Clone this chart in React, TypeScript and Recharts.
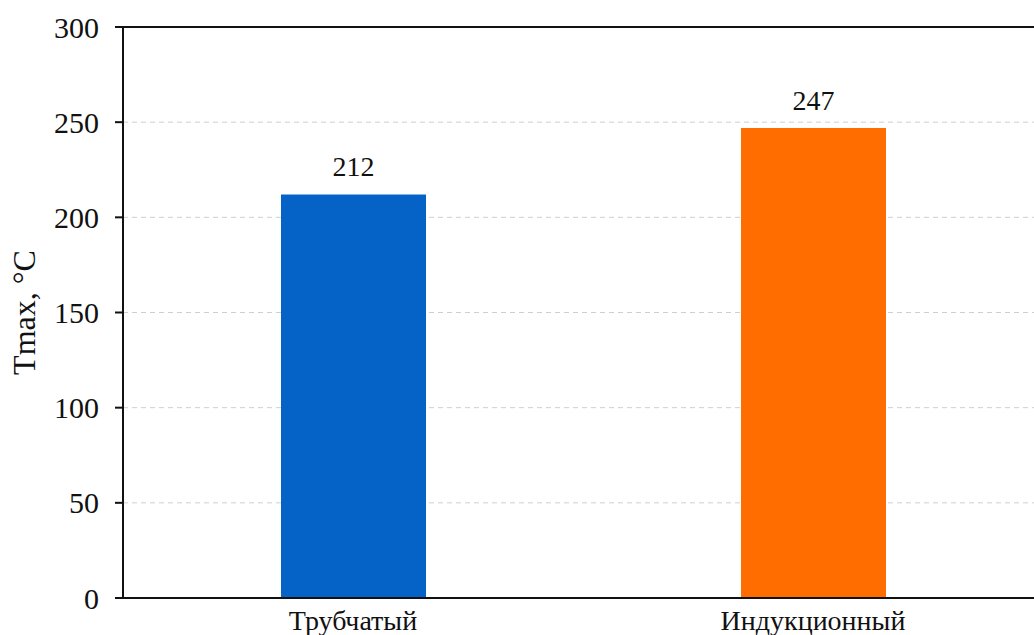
import { Bar, BarChart, CartesianGrid, LabelList, ReferenceLine, XAxis, YAxis, Cell } from "recharts"

const categories = ["Трубчатый", "Индукционный"]
const tmaxValues = [212, 247]
const barColors = ["#0563c8", "#ff6d00"]
const yTicks = [0, 50, 100, 150, 200, 250, 300]

const chartData = categories.map((name, i) => ({ name, tmax: tmaxValues[i] }))

const font = "'Liberation Serif', 'Times New Roman', serif"

export default function App() {
    return (
        <div style={{ position: "absolute", left: 0, top: 0, width: 1034, height: 635, overflow: "hidden", background: "#fff" }}>
            <BarChart
                width={1050}
                height={635}
                data={chartData}
                margin={{ top: 27, right: 7, bottom: 0, left: 0 }}
                barSize={145}
            >
                <CartesianGrid vertical={false} stroke="#cfcfcf" strokeDasharray="5 4" />
                <ReferenceLine y={300} stroke="#111" strokeWidth={2} />
                <XAxis
                    dataKey="name"
                    height={37}
                    tickLine={false}
                    axisLine={{ stroke: "#111", strokeWidth: 2 }}
                    tick={{ fill: "#111", fontSize: 28, fontFamily: font }}
                    tickMargin={6}
                />
                <YAxis
                    width={123}
                    domain={[0, 300]}
                    ticks={yTicks}
                    interval={0}
                    tickSize={8}
                    tickLine={{ stroke: "#111", strokeWidth: 2 }}
                    axisLine={{ stroke: "#111", strokeWidth: 2 }}
                    tick={{ fill: "#111", fontSize: 30, fontFamily: font }}
                    tickMargin={16}
                    label={{ value: "Tmax, °C", angle: -90, position: "insideLeft", offset: 24, style: { fill: "#111", fontSize: 32, fontFamily: font, textAnchor: "middle" } }}
                />
                <Bar dataKey="tmax" isAnimationActive={false}>
                    {chartData.map((d, i) => (
                        <Cell key={d.name} fill={barColors[i]} />
                    ))}
                    <LabelList dataKey="tmax" position="top" offset={18} style={{ fill: "#111", fontSize: 28, fontFamily: font }} />
                </Bar>
            </BarChart>
        </div>
    )
}
